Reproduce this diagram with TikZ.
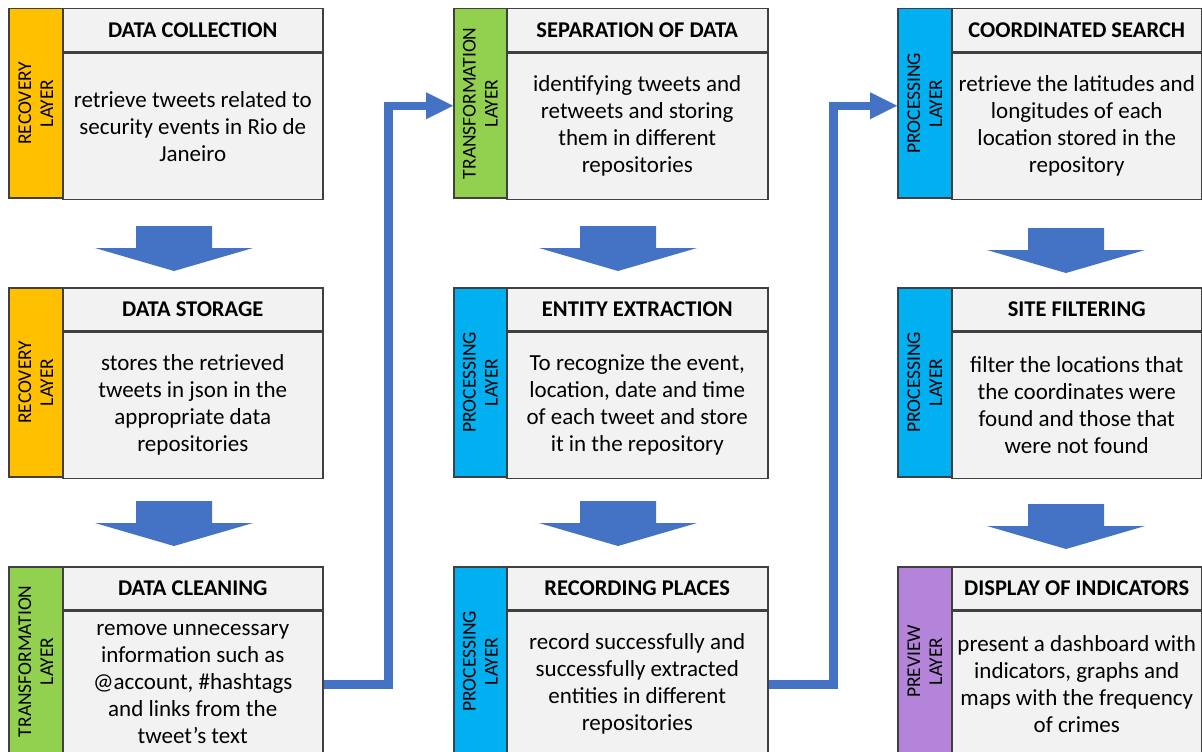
\documentclass[tikz,border=0pt]{standalone}
\usepackage{fontspec}
\setmainfont{Carlito}
\usetikzlibrary{arrows.meta}
\definecolor{recov}{HTML}{FFC000}
\definecolor{transf}{HTML}{92D050}
\definecolor{proc}{HTML}{00B0F0}
\definecolor{prev}{HTML}{B384DA}
\definecolor{boxfill}{HTML}{F2F2F2}
\definecolor{edge}{HTML}{404040}
\definecolor{flow}{HTML}{4472C4}
\tikzset{
  sidebar/.style={draw=edge, line width=1.5pt, minimum height=189pt, inner sep=0pt},
  sidetext/.style={rotate=90, align=center, inner sep=0pt, font=\fontsize{19.5}{22}\selectfont},
  headbox/.style={draw=edge, line width=1.5pt, fill=boxfill, minimum height=43pt, inner sep=0pt, font=\fontsize{22.5}{26}\selectfont\bfseries},
  bodybox/.style={draw=edge, line width=1.5pt, fill=boxfill, minimum height=146pt, inner sep=0pt, align=center, font=\fontsize{23}{27}\selectfont},
  downarrow/.style={fill=flow},
  conn/.style={draw=flow, line width=8.5pt, -{Triangle[length=27pt,width=27pt,line width=0pt]}}
}
% #1 name, #2 xl, #3 xm, #4 xr, #5 ytop, #6 colour, #7 side text, #8 title, #9 body
\newcommand\blk[9]{%
  \node[sidebar, fill=#6, minimum width={#3-#2}, anchor=north west] (#1-side) at (#2,#5) {};
  \node[sidetext] (#1-label) at (#1-side.center) {#7};
  \node[headbox, minimum width={#4-#3}, anchor=north west] (#1-head) at (#3,#5) {#8};
  \node[bodybox, minimum width={#4-#3}, anchor=north] (#1-body) at (#1-head.south) {#9};
}
% #1 centre x, #2 top y
\newcommand\darrow[2]{%
  \fill[downarrow] (#1-38,#2) -- (#1+38,#2) -- (#1+38,#2+22) -- (#1+79,#2+22) -- (#1,#2+45)
    -- (#1-79,#2+22) -- (#1-38,#2+22) -- cycle;
}
\begin{document}
\begin{tikzpicture}[x=1pt,y=-1pt]
\useasboundingbox[fill=white] (0,0) rectangle (1202,752);
% column 1
\blk{coll}{8}{62}{322}{8}{recov}{RECOVERY\\LAYER}{DATA COLLECTION}{retrieve tweets related to\\security events in Rio de\\Janeiro}
\blk{stor}{8}{62}{322}{287}{recov}{RECOVERY\\LAYER}{DATA STORAGE}{stores the retrieved\\tweets in json in the\\appropriate data\\repositories}
\blk{clean}{8}{62}{322}{566}{transf}{TRANSFORMATION\\LAYER}{DATA CLEANING}{remove unnecessary\\information such as\\@account, \#hashtags\\and links from the\\tweet's text}
% column 2
\blk{sep}{453}{506}{767}{8}{transf}{TRANSFORMATION\\LAYER}{SEPARATION OF DATA}{identifying tweets and\\retweets and storing\\them in different\\repositories}
\blk{ent}{453}{506}{767}{287}{proc}{PROCESSING\\LAYER}{ENTITY EXTRACTION}{To recognize the event,\\location, date and time\\of each tweet and store\\it in the repository}
\blk{rec}{453}{506}{767}{566}{proc}{PROCESSING\\LAYER}{RECORDING PLACES}{record successfully and\\successfully extracted\\entities in different\\repositories}
% column 3
\blk{coord}{897}{951}{1201}{8}{proc}{PROCESSING\\LAYER}{COORDINATED SEARCH}{retrieve the latitudes and\\longitudes of each\\location stored in the\\repository}
\blk{site}{897}{951}{1201}{287}{proc}{PROCESSING\\LAYER}{SITE FILTERING}{filter the locations that\\the coordinates were\\found and those that\\were not found}
\blk{disp}{897}{951}{1201}{566}{prev}{PREVIEW\\LAYER}{DISPLAY OF INDICATORS}{present a dashboard with\\indicators, graphs and\\maps with the frequency\\of crimes}
% block arrows
\darrow{174}{226}
\darrow{174}{501}
\darrow{618}{226}
\darrow{618}{501}
\darrow{1066}{228}
\darrow{1066}{504}
% elbow connectors
\draw[conn] (clean-body.east) -- ++(65,0) |- ([yshift=-2.5pt]sep-side.west);
\draw[conn] (rec-body.east) -- ++(65,0) |- ([yshift=-2.5pt]coord-side.west);
\end{tikzpicture}
\end{document}
